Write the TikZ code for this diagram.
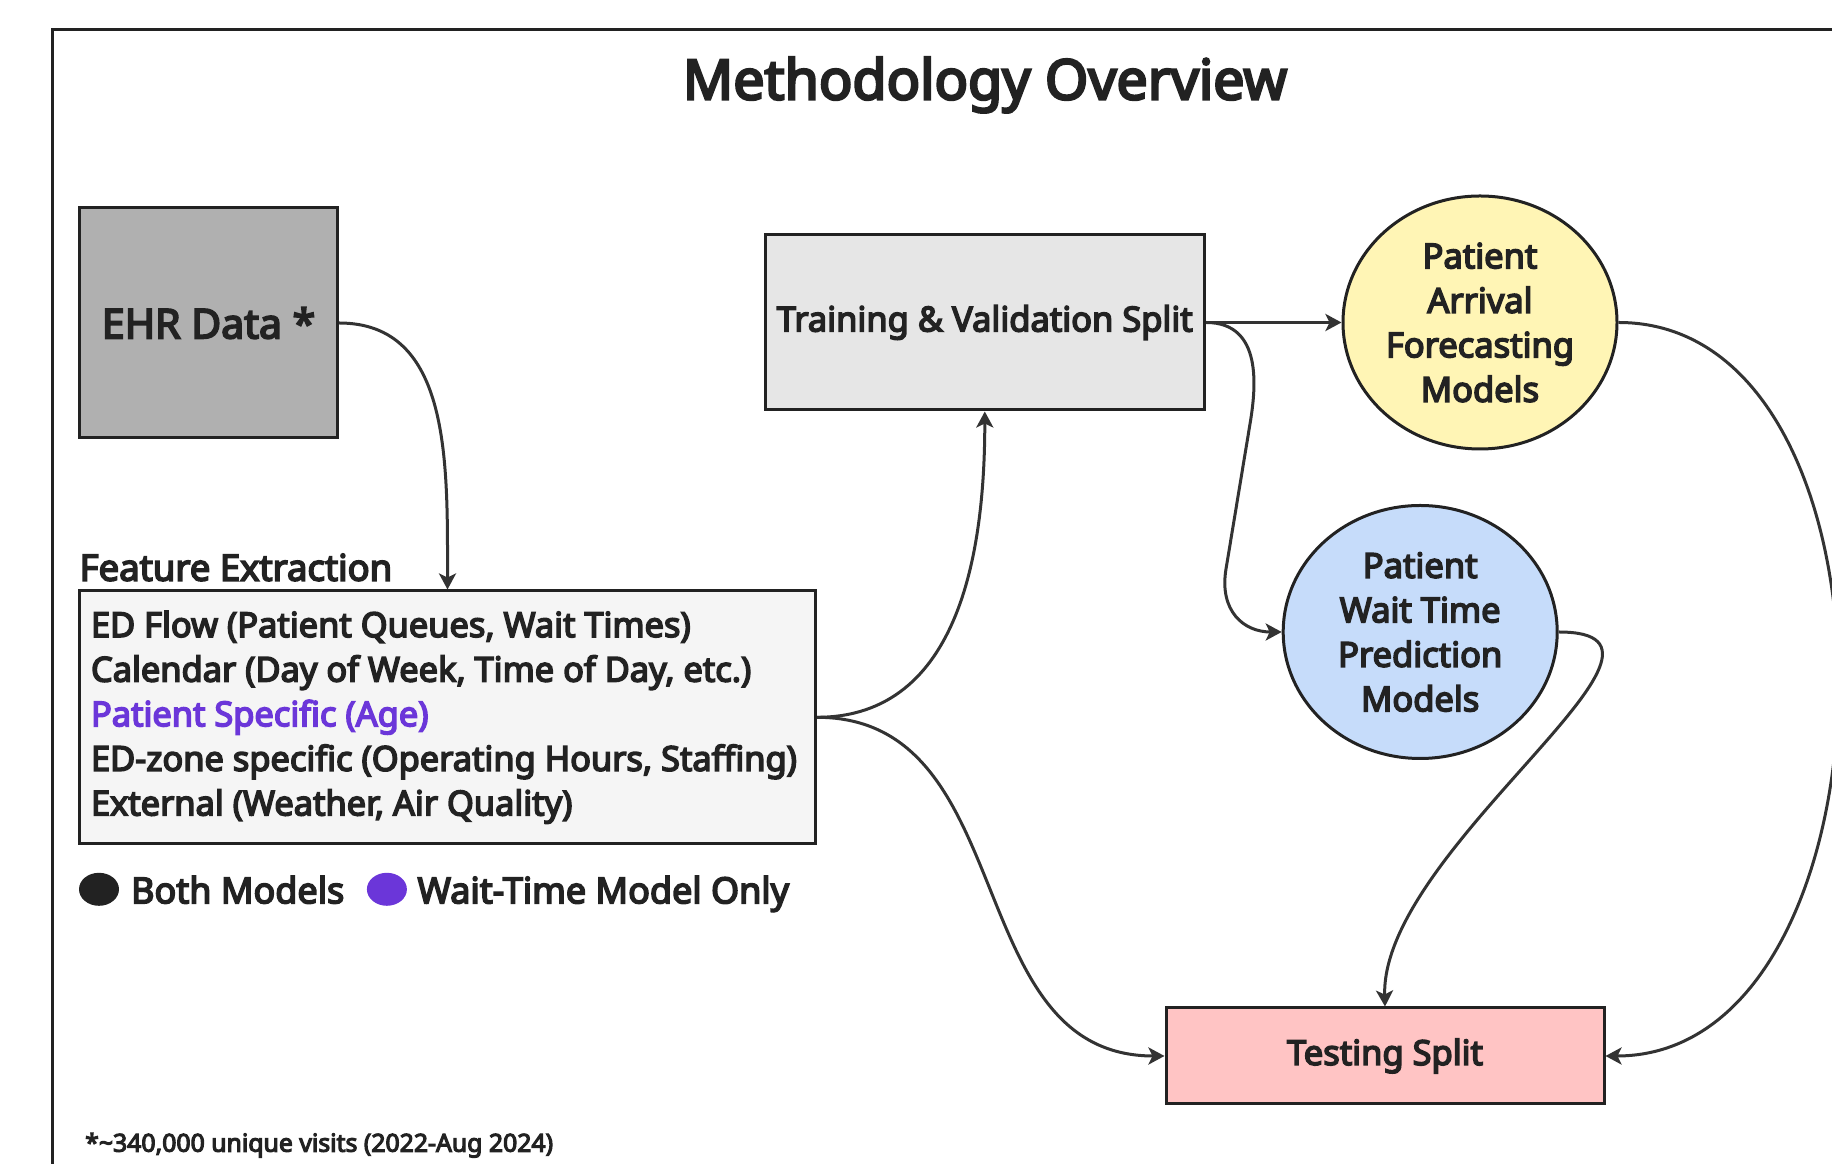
\documentclass[tikz,border=0pt]{standalone}
\usepackage{fontspec}
\setmainfont{Noto Sans}[BoldFont={Noto Sans}, BoldFeatures={FakeBold=4.5}]
\usetikzlibrary{shapes.geometric,arrows.meta}
\definecolor{ink}{HTML}{222222}
\definecolor{wire}{HTML}{333333}
\definecolor{ehrfill}{HTML}{B0B0B0}
\definecolor{splitfill}{HTML}{E6E6E6}
\definecolor{featfill}{HTML}{F5F5F5}
\definecolor{arrfill}{HTML}{FFF5B5}
\definecolor{waitfill}{HTML}{C6DCFA}
\definecolor{testfill}{HTML}{FFC4C4}
\definecolor{purp}{HTML}{6B36D9}
\begin{document}
\begin{tikzpicture}[x=1pt,y=1pt,
  txt/.style={text=ink, font=\bfseries\fontsize{34.5}{44.5}\selectfont},
  box/.style={txt, draw=ink, line width=3pt, inner sep=0pt, align=center},
  blob/.style={box, ellipse, minimum width=274pt, minimum height=253pt},
  conn/.style={draw=wire, line width=3pt, -{Stealth[length=16pt,width=17pt,inset=4pt]}},
  dot/.style={ellipse, inner sep=0pt, minimum width=40pt, minimum height=33pt}]
\useasboundingbox (0,0) rectangle (1832,1164);
% outer frame (runs past the right and bottom edges)
\draw[ink, line width=3pt] (52.6,-40) rectangle (1900,1134.8);

\node[txt, font=\bfseries\fontsize{55.5}{60}\selectfont] (title) at (985,1079) {Methodology Overview};

% nodes
\node[box, fill=ehrfill, minimum width=258pt, minimum height=230pt,
      font=\bfseries\fontsize{41}{44}\selectfont] (ehr) at (208.6,841) {EHR Data *};
\node[box, fill=splitfill, minimum width=439.6pt, minimum height=175pt] (tv) at (984.8,841.5) {Training \& Validation Split};
\node[blob, fill=arrfill] (ar) at (1480,841.5) {Patient\\Arrival\\Forecasting\\Models};
\node[blob, fill=waitfill] (wt) at (1420.2,532) {Patient\\Wait Time\\Prediction\\Models};
\node[box, fill=testfill, minimum width=438pt, minimum height=96pt] (ts) at (1385,108) {Testing Split};
\node[box, fill=featfill, minimum width=736pt, minimum height=252.6pt] (fx) at (447.5,446.7) {};
\node[txt, anchor=west, align=left, inner sep=0pt, font=\bfseries\fontsize{34.4}{44.6}\selectfont]
  (fxtext) at ([xshift=12.8pt]fx.west)
  {ED Flow (Patient Queues, Wait Times)\\
   Calendar (Day of Week, Time of Day, etc.)\\
   \textcolor{purp}{Patient Specific (Age)}\\
   ED-zone specific (Operating Hours, Staffing)\\
   External (Weather, Air Quality)};
\node[txt, anchor=base west, inner sep=0pt, font=\bfseries\fontsize{36.5}{44}\selectfont] (fxlabel) at (79.5,583.3) {Feature Extraction};

% legend
\node[dot, fill=ink] (kboth) at (99,274.7) {};
\node[txt, anchor=base west, inner sep=0pt, font=\bfseries\fontsize{36}{40}\selectfont] (lboth) at (130.9,260.7) {Both Models};
\node[dot, fill=purp] (kwait) at (386.9,274.7) {};
\node[txt, anchor=base west, inner sep=0pt, font=\bfseries\fontsize{36}{40}\selectfont] (lwait) at (417.3,260.7) {Wait-Time Model Only};

\node[txt, anchor=base west, inner sep=0pt, font=\bfseries\fontsize{24.8}{28}\selectfont] (note) at (85,12.3) {*\textasciitilde 340,000 unique visits (2022-Aug 2024)};

% connectors
\coordinate (bendA) at (1250,740);
\coordinate (bendB) at (1226,595);
\draw[conn] (ehr.east) .. controls +(112,0) and +(0,127) .. (fx.north);
\draw[conn] (fx.east) .. controls +(145,0) and +(0,-134) .. (tv.south);
\draw[conn] (fx.east) .. controls +(205,0) and +(-206,0) .. (ts.west);
\draw[conn] (tv.east) -- (ar.west);
\draw[conn] (tv.east) .. controls +(57,0) and +(6,36) .. (bendA) -- (bendB)
            .. controls +(-7,-42) and +(-38,0) .. (wt.west);
\draw[conn] (ar.east) .. controls +(300,0) and +(300,0) .. (ts.east);
\draw[conn] (wt.east) .. controls +(162,0) and +(-4.5,158) .. (ts.north);
\end{tikzpicture}
\end{document}
